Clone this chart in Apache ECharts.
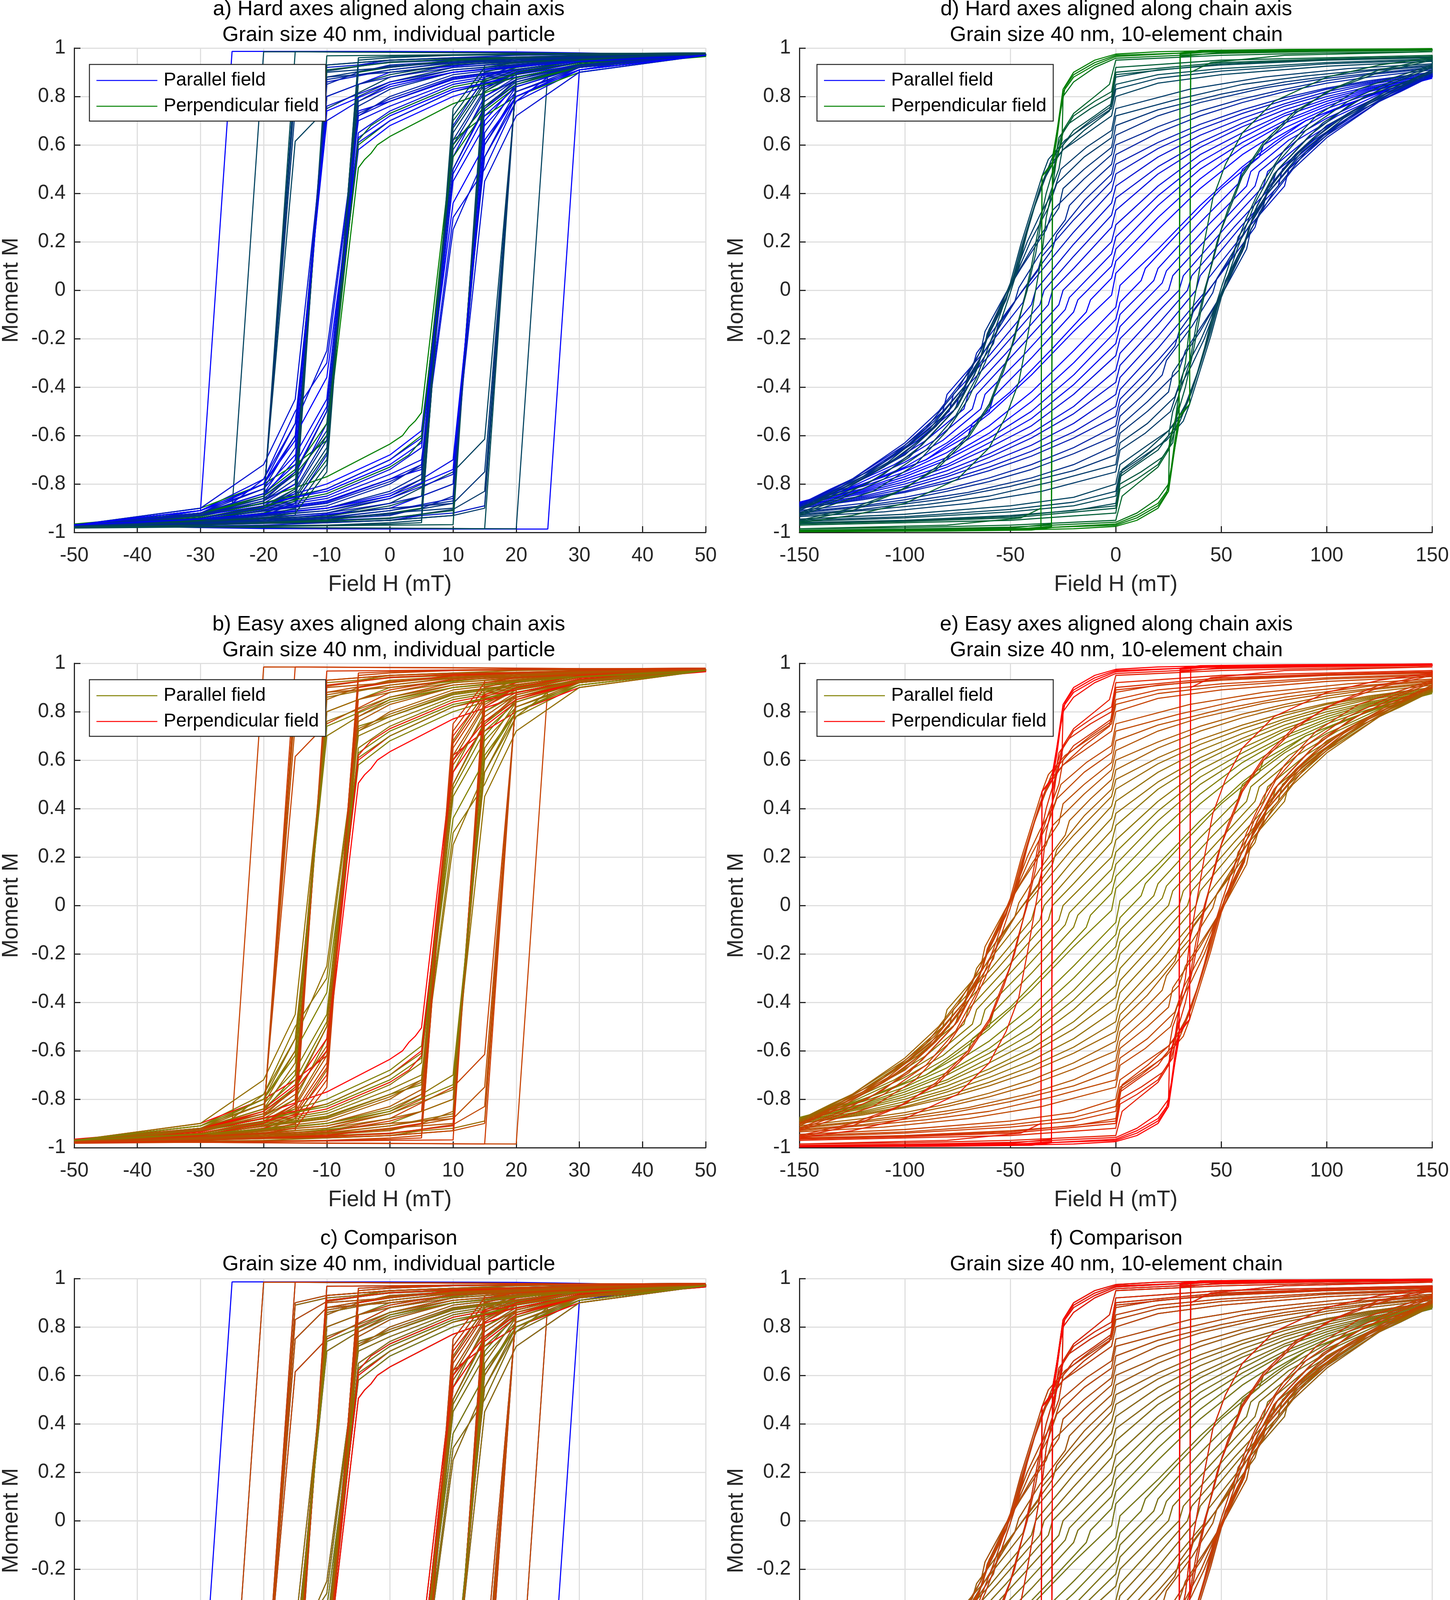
<!DOCTYPE html>
<html>
<head>
<meta charset="utf-8">
<title>Hysteresis loops</title>
<script src="https://cdn.jsdelivr.net/npm/echarts@6/dist/echarts.min.js"></script>
<style>
html, body { margin: 0; padding: 0; background: #fff; }
#chart { width: 3713px; height: 4679px; }
</style>
</head>
<body>
<div id="chart"></div>
<script>
// Achsen: Feld H in mT, Moment M normiert
var particleField = [-50, 50, 10];
var chainField = [-150, 150, 50];
var momentAxis = [-1, 1, 0.2];

// Aufsteigende Äste [H, M] (Panels a/b).
// Der absteigende Ast ist jeweils die Punktspiegelung (-H, -M) desselben Loops.
var particleLoops = [
	[[-50,-0.975],[-30,-0.978],[-10,-0.982],[10,-0.984],[20,-0.985],[25,0.9],[30,0.93],[40,0.96],[50,0.975]],
	[[-50,-0.975],[-30,-0.978],[0,-0.982],[15,-0.985],[20,0.88],[30,0.93],[50,0.975]],
	[[-50,-0.97],[-30,-0.962],[-10,-0.952],[0,-0.943],[10,-0.905],[15,-0.83],[20,0.87],[30,0.93],[50,0.975]],
	[[-50,-0.97],[-30,-0.955],[-10,-0.93],[0,-0.88],[10,-0.75],[15,-0.615],[20,0.85],[30,0.93],[50,0.975]],
	[[-50,-0.97],[-20,-0.96],[0,-0.94],[10,-0.92],[15,-0.89],[20,0.88],[30,0.92],[50,0.97]],
	[[-50,-0.972],[-20,-0.955],[0,-0.925],[10,-0.88],[15,-0.75],[20,0.86],[30,0.925],[50,0.972]],
	[[-50,-0.97],[-30,-0.965],[-10,-0.96],[0,-0.95],[10,-0.93],[15,0.88],[20,0.92],[30,0.95],[50,0.975]],
	[[-50,-0.975],[-20,-0.96],[0,-0.93],[5,-0.9],[10,-0.85],[15,0.8],[20,0.88],[30,0.93],[50,0.97]],
	[[-50,-0.97],[-30,-0.95],[-10,-0.9],[0,-0.84],[5,-0.78],[10,-0.7],[15,0.55],[20,0.78],[30,0.91],[50,0.97]],
	[[-50,-0.97],[-20,-0.95],[0,-0.9],[10,-0.8],[15,0.7],[20,0.85],[30,0.92],[50,0.97]],
	[[-50,-0.98],[-20,-0.975],[0,-0.97],[10,-0.968],[15,0.93],[30,0.96],[50,0.98]],
	[[-50,-0.975],[-30,-0.96],[-10,-0.93],[0,-0.9],[10,-0.88],[15,0.84],[20,0.9],[30,0.94],[50,0.975]],
	[[-50,-0.97],[-30,-0.96],[-10,-0.94],[0,-0.91],[10,-0.86],[15,0.65],[20,0.84],[30,0.92],[50,0.97]],
	[[-50,-0.965],[-30,-0.92],[-20,-0.86],[-10,-0.77],[0,-0.635],[2,-0.6],[3,-0.565],[4,-0.54],[5,-0.505],[10,0.62],[15,0.72],[20,0.8],[30,0.9],[50,0.97]],
	[[-50,-0.97],[-30,-0.93],[-20,-0.88],[-10,-0.8],[0,-0.68],[5,-0.58],[10,0.5],[15,0.75],[20,0.85],[30,0.92],[50,0.97]],
	[[-50,-0.97],[-30,-0.94],[-10,-0.85],[0,-0.74],[5,-0.65],[10,0.55],[15,0.8],[20,0.87],[30,0.93],[50,0.97]],
	[[-50,-0.975],[-30,-0.95],[-10,-0.89],[0,-0.8],[5,-0.72],[10,0.6],[15,0.82],[20,0.89],[30,0.94],[50,0.975]],
	[[-50,-0.975],[-30,-0.96],[-10,-0.92],[0,-0.86],[5,-0.8],[10,0.65],[15,0.85],[20,0.9],[30,0.94],[50,0.975]],
	[[-50,-0.98],[-30,-0.97],[-10,-0.95],[0,-0.92],[5,-0.9],[10,0.7],[15,0.87],[20,0.92],[30,0.95],[50,0.98]],
	[[-50,-0.97],[-30,-0.94],[-10,-0.86],[0,-0.76],[5,-0.7],[10,0.3],[15,0.5],[20,0.78],[25,0.88],[30,0.92],[50,0.97]],
	[[-50,-0.97],[-30,-0.93],[-10,-0.83],[0,-0.72],[5,-0.63],[10,0.36],[15,0.6],[20,0.8],[30,0.91],[50,0.97]],
	[[-50,-0.97],[-30,-0.935],[-10,-0.82],[0,-0.7],[5,-0.6],[10,0.55],[15,0.74],[20,0.84],[30,0.92],[50,0.97]],
	[[-50,-0.98],[-20,-0.97],[0,-0.95],[5,-0.93],[10,0.68],[15,0.88],[20,0.93],[50,0.98]],
	[[-50,-0.98],[-10,-0.97],[0,-0.96],[5,-0.95],[10,0.72],[15,0.9],[20,0.93],[50,0.98]],
	[[-50,-0.97],[-30,-0.945],[-10,-0.875],[0,-0.78],[5,-0.74],[10,0.45],[15,0.68],[20,0.82],[30,0.91],[50,0.97]],
	[[-50,-0.975],[-30,-0.955],[-10,-0.9],[0,-0.83],[5,-0.76],[10,0.58],[15,0.78],[20,0.87],[30,0.93],[50,0.975]],
	[[-50,-0.97],[-30,-0.95],[-10,-0.91],[0,-0.86],[10,-0.76],[15,0.45],[20,0.72],[30,0.9],[50,0.97]],
	[[-50,-0.975],[-30,-0.955],[-10,-0.91],[0,-0.85],[5,-0.78],[10,0.62],[15,0.83],[20,0.9],[30,0.94],[50,0.975]],
	[[-50,-0.978],[-30,-0.965],[-10,-0.935],[0,-0.89],[5,-0.85],[10,0.67],[15,0.86],[20,0.91],[30,0.95],[50,0.978]],
	[[-50,-0.968],[-30,-0.93],[-20,-0.89],[-10,-0.82],[0,-0.7],[5,-0.61],[10,0.48],[15,0.72],[20,0.84],[30,0.92],[50,0.97]],
	[[-50,-0.972],[-30,-0.945],[-10,-0.88],[0,-0.79],[5,-0.73],[10,0.5],[15,0.76],[20,0.86],[30,0.93],[50,0.972]],
	[[-50,-0.97],[-30,-0.94],[-10,-0.84],[0,-0.73],[3,-0.68],[5,-0.62],[10,0.6],[15,0.76],[20,0.85],[30,0.92],[50,0.97]],
	[[-50,-0.97],[-30,-0.94],[-10,-0.87],[0,-0.78],[5,-0.72],[10,0.25],[15,0.55],[20,0.8],[30,0.92],[50,0.97]],
	[[-50,-0.975],[-30,-0.965],[-10,-0.945],[0,-0.92],[10,-0.9],[15,0.86],[20,0.91],[30,0.95],[50,0.975]],
	[[-50,-0.98],[-30,-0.97],[-10,-0.955],[0,-0.94],[10,-0.91],[15,0.82],[20,0.9],[30,0.95],[50,0.978]],
	[[-50,-0.972],[-30,-0.955],[-10,-0.92],[0,-0.88],[5,-0.85],[10,-0.8],[15,0.6],[20,0.82],[30,0.92],[50,0.972]],
	[[-50,-0.975],[-30,-0.962],[-10,-0.938],[0,-0.91],[10,-0.87],[15,0.75],[20,0.87],[30,0.93],[50,0.975]],
	[[-50,-0.975],[-30,-0.968],[-10,-0.958],[0,-0.95],[10,-0.93],[15,-0.9],[20,0.89],[30,0.94],[50,0.975]],
	[[-50,-0.97],[-30,-0.945],[-10,-0.9],[0,-0.85],[10,-0.74],[15,0.62],[20,0.8],[30,0.91],[50,0.97]],
	[[-50,-0.982],[-20,-0.975],[0,-0.965],[5,-0.96],[10,0.75],[15,0.92],[20,0.94],[50,0.98]]
];
// 0 = Feld parallel, 1 = Feld senkrecht (bestimmt die Farbe)
var particleMix = [0.55, 0.6, 0.5, 0.55, 0.2, 0.45, 0.6, 0.3, 0.1, 0, 0.65, 0.4, 0.2, 1, 0, 0.1, 0.3, 0.5, 0.75, 0.1,
	0, 0.9, 0.2, 0.55, 0.05, 0.35, 0.15, 0.4, 0.6, 0.05, 0.25, 0.8, 0.15, 0.45, 0.7, 0.25, 0.35, 0.5, 0, 0.6];

// Äußerer Loop, nur in Panel a (harte Achsen)
var hardOnlyLoops = [
	[[-50,-0.97],[-40,-0.975],[-30,-0.98],[-20,-0.984],[0,-0.986],[25,-0.986],[30,0.91],[40,0.95],[50,0.97]]
];
var hardOnlyMix = [0];

// Kette aus 10 Elementen (Panels d/e), aufsteigende Äste
var chainLoops = [
	[[-150,-0.875],[-120,-0.81],[-100,-0.75],[-80,-0.67],[-60,-0.56],[-40,-0.42],[-20,-0.25],[0,-0.07],[2,0.02],[20,0.17],[40,0.35],[60,0.51],[75,0.61],[90,0.7],[110,0.77],[130,0.83],[150,0.875]],
	[[-150,-0.88],[-120,-0.82],[-100,-0.76],[-80,-0.69],[-60,-0.59],[-40,-0.46],[-20,-0.3],[0,-0.12],[2,-0.05],[12,0.04],[14,0.09],[30,0.24],[50,0.42],[68,0.55],[70,0.6],[90,0.7],[110,0.77],[130,0.83],[150,0.88]],
	[[-150,-0.88],[-120,-0.825],[-100,-0.77],[-80,-0.7],[-60,-0.61],[-40,-0.5],[-20,-0.35],[0,-0.17],[2,-0.1],[18,0.04],[20,0.09],[40,0.28],[58,0.44],[60,0.5],[80,0.63],[100,0.73],[125,0.82],[150,0.88]],
	[[-150,-0.885],[-120,-0.83],[-100,-0.78],[-80,-0.72],[-60,-0.63],[-40,-0.53],[-20,-0.39],[0,-0.22],[2,-0.15],[22,0.03],[24,0.08],[45,0.28],[62,0.43],[64,0.49],[82,0.62],[100,0.71],[125,0.81],[150,0.88]],
	[[-150,-0.885],[-120,-0.835],[-100,-0.79],[-80,-0.73],[-60,-0.65],[-40,-0.56],[-20,-0.43],[0,-0.27],[2,-0.2],[25,0.0],[27,0.06],[48,0.26],[66,0.43],[68,0.49],[86,0.62],[105,0.72],[125,0.8],[150,0.885]],
	[[-150,-0.89],[-120,-0.84],[-100,-0.8],[-80,-0.745],[-60,-0.675],[-40,-0.59],[-20,-0.48],[0,-0.33],[2,-0.26],[20,-0.09],[30,0.0],[32,0.06],[52,0.26],[70,0.43],[72,0.49],[90,0.62],[110,0.73],[130,0.81],[150,0.885]],
	[[-150,-0.89],[-120,-0.85],[-100,-0.81],[-80,-0.76],[-60,-0.69],[-40,-0.61],[-20,-0.51],[0,-0.38],[2,-0.31],[20,-0.14],[34,0.0],[36,0.06],[56,0.26],[74,0.43],[76,0.49],[94,0.62],[115,0.74],[135,0.82],[150,0.885]],
	[[-150,-0.895],[-120,-0.855],[-100,-0.82],[-80,-0.77],[-60,-0.71],[-40,-0.64],[-20,-0.55],[0,-0.43],[2,-0.36],[20,-0.19],[38,0.0],[40,0.06],[60,0.27],[77,0.43],[79,0.5],[97,0.63],[120,0.76],[150,0.89]],
	[[-150,-0.9],[-120,-0.86],[-100,-0.83],[-80,-0.785],[-60,-0.73],[-40,-0.665],[-20,-0.585],[0,-0.48],[2,-0.41],[20,-0.24],[42,-0.01],[44,0.05],[63,0.26],[80,0.43],[82,0.5],[100,0.64],[125,0.78],[150,0.89]],
	[[-150,-0.9],[-120,-0.865],[-100,-0.835],[-80,-0.795],[-60,-0.745],[-40,-0.685],[-20,-0.61],[0,-0.52],[2,-0.45],[20,-0.29],[35,-0.14],[37,-0.08],[50,0.07],[66,0.26],[68,0.32],[84,0.5],[100,0.63],[125,0.78],[150,0.89]],
	[[-150,-0.91],[-120,-0.88],[-100,-0.855],[-80,-0.82],[-60,-0.775],[-40,-0.72],[-20,-0.65],[0,-0.56],[2,-0.48],[15,-0.37],[28,-0.23],[30,-0.17],[45,0.01],[56,0.15],[58,0.22],[72,0.4],[86,0.54],[100,0.65],[120,0.77],[150,0.895]],
	[[-150,-0.915],[-120,-0.89],[-100,-0.865],[-80,-0.83],[-60,-0.79],[-40,-0.74],[-20,-0.675],[0,-0.6],[2,-0.52],[12,-0.44],[22,-0.35],[24,-0.29],[36,-0.15],[46,-0.01],[48,0.05],[60,0.22],[70,0.36],[72,0.42],[84,0.55],[100,0.67],[120,0.78],[150,0.9]],
	[[-150,-0.92],[-120,-0.895],[-100,-0.875],[-70,-0.835],[-40,-0.775],[-20,-0.72],[0,-0.64],[2,-0.56],[15,-0.46],[30,-0.33],[33,-0.25],[45,-0.09],[52,0.01],[62,0.17],[64,0.25],[75,0.41],[90,0.57],[110,0.71],[130,0.81],[150,0.905]],
	[[-150,-0.925],[-120,-0.905],[-80,-0.86],[-50,-0.81],[-20,-0.745],[0,-0.68],[2,-0.59],[15,-0.5],[25,-0.42],[27,-0.34],[40,-0.17],[50,-0.02],[52,0.04],[60,0.18],[70,0.35],[72,0.41],[85,0.56],[100,0.68],[125,0.8],[150,0.9]],
	[[-150,-0.93],[-120,-0.91],[-90,-0.885],[-60,-0.85],[-30,-0.79],[0,-0.72],[2,-0.63],[15,-0.55],[28,-0.44],[32,-0.34],[40,-0.21],[47,-0.07],[52,0.03],[60,0.16],[65,0.3],[75,0.45],[90,0.6],[110,0.73],[130,0.83],[150,0.91]],
	[[-150,-0.935],[-110,-0.915],[-70,-0.88],[-35,-0.83],[0,-0.75],[2,-0.66],[14,-0.59],[26,-0.5],[29,-0.42],[36,-0.31],[42,-0.2],[48,-0.06],[54,0.05],[61,0.18],[63,0.26],[72,0.4],[88,0.57],[108,0.71],[130,0.82],[150,0.91]],
	[[-150,-0.945],[-100,-0.925],[-50,-0.89],[-20,-0.855],[0,-0.8],[2,-0.72],[15,-0.64],[25,-0.58],[31,-0.52],[34,-0.45],[40,-0.31],[45,-0.17],[50,-0.01],[55,0.09],[60,0.17],[66,0.33],[75,0.48],[89,0.61],[98,0.69],[118,0.8],[150,0.9]],
	[[-150,-0.95],[-100,-0.935],[-50,-0.905],[-20,-0.875],[0,-0.83],[2,-0.75],[14,-0.68],[24,-0.62],[32,-0.54],[35,-0.47],[40,-0.33],[45,-0.19],[50,-0.03],[56,0.1],[61,0.2],[67,0.35],[77,0.5],[92,0.64],[110,0.76],[130,0.85],[150,0.92]],
	[[-150,-0.955],[-100,-0.94],[-50,-0.915],[-20,-0.89],[0,-0.85],[2,-0.76],[12,-0.7],[22,-0.63],[30,-0.55],[36,-0.42],[41,-0.28],[46,-0.12],[52,0.03],[58,0.18],[66,0.36],[76,0.52],[90,0.66],[110,0.78],[130,0.86],[150,0.925]],
	[[-150,-0.96],[-100,-0.95],[-50,-0.93],[-20,-0.91],[0,-0.88],[3,-0.74],[15,-0.66],[25,-0.58],[30,-0.52],[35,-0.44],[38,-0.36],[42,-0.24],[46,-0.1],[50,0.01],[55,0.14],[62,0.3],[70,0.45],[80,0.58],[95,0.72],[115,0.83],[150,0.93]],
	[[-150,-0.963],[-100,-0.952],[-50,-0.935],[0,-0.89],[2,-0.77],[10,-0.72],[20,-0.66],[25,-0.6],[27,-0.5],[30,-0.43],[35,-0.3],[38,-0.15],[42,0.0],[46,0.12],[50,0.25],[56,0.38],[60,0.47],[70,0.6],[85,0.73],[100,0.82],[125,0.9],[150,0.95]],
	[[-150,-0.965],[-100,-0.955],[-50,-0.94],[0,-0.9],[2,-0.8],[12,-0.75],[22,-0.69],[27,-0.63],[29,-0.52],[33,-0.4],[37,-0.24],[40,-0.1],[44,0.06],[48,0.2],[53,0.33],[60,0.48],[70,0.61],[85,0.74],[105,0.84],[125,0.91],[150,0.955]],
	[[-150,-0.97],[-100,-0.96],[-50,-0.95],[0,-0.92],[2,-0.82],[10,-0.78],[20,-0.72],[25,-0.65],[28,-0.55],[30,-0.42],[33,-0.3],[35,-0.15],[38,0.0],[42,0.2],[46,0.38],[52,0.52],[60,0.65],[75,0.78],[100,0.88],[125,0.93],[150,0.96]],
	[[-150,-0.985],[-100,-0.98],[-50,-0.97],[0,-0.95],[3,-0.85],[10,-0.8],[20,-0.73],[25,-0.66],[28,-0.58],[30,-0.53],[35,-0.47],[35.5,0.9],[45,0.94],[80,0.97],[150,0.985]],
	[[-150,-0.99],[-100,-0.986],[-50,-0.978],[0,-0.958],[10,-0.92],[20,-0.86],[25,-0.8],[25.5,-0.62],[28,-0.54],[30,-0.47],[30.5,0.965],[50,0.982],[150,0.994]],
	[[-150,-0.994],[-100,-0.991],[-50,-0.985],[0,-0.97],[10,-0.94],[20,-0.89],[24,-0.84],[27,-0.7],[30,-0.55],[30.5,0.975],[50,0.988],[150,0.996]],
	[[-150,-0.996],[-100,-0.994],[-50,-0.99],[-20,-0.985],[0,-0.975],[10,-0.95],[20,-0.9],[25,-0.83],[28,-0.65],[30,-0.53],[30.5,0.98],[40,0.99],[80,0.994],[150,0.997]],
	[[-150,-0.995],[-100,-0.993],[-50,-0.988],[0,-0.965],[10,-0.93],[20,-0.88],[25,-0.82],[28,-0.62],[30,-0.52],[35,-0.47],[35.5,0.985],[50,0.99],[150,0.996]]
];
var chainMix = [0, 0, 0.05, 0.05, 0.1, 0.1, 0.15, 0.15, 0.2, 0.25, 0.3, 0.35, 0.4, 0.45, 0.5, 0.5, 0.55, 0.55, 0.6, 0.6, 0.65, 0.7, 0.75, 0.8, 0.9, 0.95, 1, 1];

var panelTitles = [
	'a) Hard axes aligned along chain axis', 'd) Hard axes aligned along chain axis',
	'b) Easy axes aligned along chain axis', 'e) Easy axes aligned along chain axis',
	'c) Comparison', 'f) Comparison'
];
var panelSubtitles = [
	'Grain size 40 nm, individual particle', 'Grain size 40 nm, 10-element chain',
	'Grain size 40 nm, individual particle', 'Grain size 40 nm, 10-element chain',
	'Grain size 40 nm, individual particle', 'Grain size 40 nm, 10-element chain'
];
var legendNames = ['Parallel field', 'Perpendicular field'];

// Farbverlauf parallel -> senkrecht (drei Stützstellen)
var hardColors = [[0, 0, 255], [0, 58, 105], [0, 128, 0]];
var easyColors = [[128, 128, 0], [192, 72, 0], [255, 0, 0]];

var FONT = '"Liberation Sans", Arial, Helvetica, sans-serif';
var colLeft = [184, 2047];
var colWidth = 1623;
var rowTop = [123, 1698, 3273];
var rowHeight = 1240;
var titleTop = [-9, 1566, 3138];

function mixColor(pal, t) {
	var a = t < 0.5 ? pal[0] : pal[1];
	var b = t < 0.5 ? pal[1] : pal[2];
	var u = t < 0.5 ? t * 2 : (t - 0.5) * 2;
	var c = a.map(function (v, i) { return Math.round(v + (b[i] - v) * u); });
	return 'rgb(' + c.join(',') + ')';
}

// aufsteigender Ast + gespiegelter absteigender Ast = geschlossener Loop
function closeLoop(asc) {
	return asc.concat(asc.map(function (p) { return [-p[0], -p[1]]; }));
}

function GenerateHysteresis() {
	var chart = echarts.init(document.getElementById('chart'), null, {renderer: 'canvas'});

	// Welche Daten in welchem Panel (Reihenfolge = Zeichenreihenfolge)
	var panels = [
		{col: 0, row: 0, field: particleField, sets: [[hardOnlyLoops, hardOnlyMix, hardColors], [particleLoops, particleMix, hardColors]], legend: hardColors},
		{col: 1, row: 0, field: chainField, sets: [[chainLoops, chainMix, hardColors]], legend: hardColors},
		{col: 0, row: 1, field: particleField, sets: [[particleLoops, particleMix, easyColors]], legend: easyColors},
		{col: 1, row: 1, field: chainField, sets: [[chainLoops, chainMix, easyColors]], legend: easyColors},
		{col: 0, row: 2, field: particleField, sets: [[hardOnlyLoops, hardOnlyMix, hardColors], [particleLoops, particleMix, hardColors], [particleLoops, particleMix, easyColors]], legend: null},
		{col: 1, row: 2, field: chainField, sets: [[chainLoops, chainMix, hardColors], [chainLoops, chainMix, easyColors]], legend: null}
	];

	var grids = [], xAxes = [], yAxes = [], titles = [], series = [], graphics = [];

	panels.forEach(function (p, i) {
		var left = colLeft[p.col], top = rowTop[p.row];
		grids.push({left: left, top: top, width: colWidth, height: rowHeight, containLabel: false});

		titles.push({
			text: panelTitles[i] + '\n' + panelSubtitles[i],
			left: left + colWidth / 2,
			textAlign: 'center',
			top: titleTop[p.row],
			padding: 0,
			textStyle: {fontFamily: FONT, fontSize: 54, fontWeight: 'normal', color: '#000', lineHeight: 66}
		});

		var axisCommon = {
			axisLine: {show: true, onZero: false, lineStyle: {color: '#262626', width: 3}},
			axisTick: {show: true, inside: true, length: 16, lineStyle: {color: '#262626', width: 3}},
			splitLine: {show: true, lineStyle: {color: '#dfdfdf', width: 3}},
			nameTextStyle: {fontFamily: FONT, fontSize: 57, color: '#262626'},
			nameLocation: 'middle'
		};

		xAxes.push(Object.assign({
			gridIndex: i, type: 'value', position: 'bottom',
			min: p.field[0], max: p.field[1], interval: p.field[2],
			name: 'Field H (mT)', nameGap: 106,
			axisLabel: {fontFamily: FONT, fontSize: 51, color: '#262626', margin: 34}
		}, axisCommon));

		yAxes.push(Object.assign({
			gridIndex: i, type: 'value', position: 'left',
			min: momentAxis[0], max: momentAxis[1], interval: momentAxis[2],
			name: 'Moment M', nameGap: 132,
			axisLabel: {fontFamily: FONT, fontSize: 51, color: '#262626', margin: 22,
				formatter: function (v) { return String(+v.toFixed(1)); }}
		}, axisCommon));

		p.sets.forEach(function (set) {
			set[0].forEach(function (asc, k) {
				series.push({
					type: 'line',
					xAxisIndex: i, yAxisIndex: i,
					data: closeLoop(asc),
					showSymbol: false, symbol: 'none',
					silent: true, animation: false,
					lineStyle: {color: mixColor(set[2], set[1][k]), width: 2.8}
				});
			});
		});

		// Legendenkasten wie im Original
		if (p.legend) {
			var lx = left + 45, ly = top + 42;
			graphics.push({type: 'rect', z: 100, shape: {x: lx, y: ly, width: 605, height: 145},
				style: {fill: '#fff', stroke: '#262626', lineWidth: 2.5}});
			legendNames.forEach(function (name, j) {
				var cy = ly + 41 + j * 66;
				graphics.push({type: 'line', z: 101, shape: {x1: lx + 18, y1: cy, x2: lx + 174, y2: cy},
					style: {stroke: mixColor(p.legend, j), lineWidth: 2.5}});
				graphics.push({type: 'text', z: 101, x: lx + 190, y: cy,
					style: {text: name, fontFamily: FONT, fontSize: 48, fill: '#000', verticalAlign: 'middle', textAlign: 'left'}});
			});
		}
	});

	chart.setOption({
		animation: false,
		backgroundColor: '#fff',
		title: titles,
		grid: grids,
		xAxis: xAxes,
		yAxis: yAxes,
		series: series,
		graphic: graphics
	});
}

GenerateHysteresis();
</script>
</body>
</html>
